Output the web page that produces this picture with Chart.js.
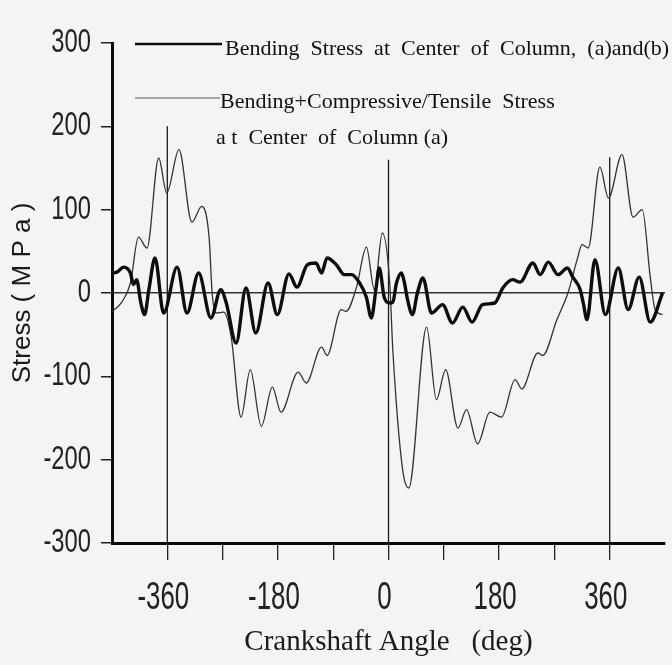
<!DOCTYPE html>
<html>
<head>
<meta charset="utf-8">
<script src="https://cdn.jsdelivr.net/npm/chart.js@4/dist/chart.umd.min.js"></script>
<style>
  html, body { margin: 0; padding: 0; background: #f4f4f2; }
  #wrap { width: 672px; height: 665px; position: relative; }
</style>
</head>
<body>
<div id="wrap"><canvas id="chart01"></canvas></div>
<script>
// Bending stress (thick line)
var bendingAngle = [-451,-442,-431,-420,-415,-410,-403,-397,-390,-380,-366,-344,-328,-309,-289,-273,-264,-248,-232,-216,-196,-181,-162,-149,-132,-118,-109,-100,-85,-72,-60,-47,-36,-28,-20,-15,-7,2,7,13,21,26,31,39,47,56,70,88,104,121,136,153,173,186,202,214,235,247,260,276,291,300,312,317,323,336,353,374,390,408,426,446];
var bendingStress = [24,25,31,24,10,16,-12,-26,4,42,-24,31,-24,24,-30,4,-12,-60,6,-48,12,-26,23,7,34,36,24,42,34,22,22,12,-5,-30,7,30,-5,-12,-11,12,24,12,-8,-26,0,18,-24,-14,-36,-17,-35,-14,-12,6,16,13,36,22,37,22,30,19,4,-12,-32,40,-26,30,-20,19,-35,0];

// Bending + compressive/tensile stress (thin line)
var combinedAngle = [-451,-434,-420,-407,-393,-374,-361,-341,-320,-304,-292,-287,-281,-268,-256,-240,-225,-207,-189,-175,-147,-134,-109,-100,-77,-69,-52,-36,-23,-10,2,7,23,33,62,78,93,113,127,145,165,184,206,217,243,251,274,292,307,315,325,344,358,380,398,413,426,434,446];
var combinedStress = [-23,-11,12,67,54,162,120,172,85,104,67,0,-24,-23,-53,-149,-92,-160,-113,-143,-95,-108,-65,-75,-20,-22,7,55,4,72,12,-68,-212,-234,-41,-128,-92,-162,-140,-181,-143,-149,-104,-115,-72,-75,-32,0,40,58,54,151,114,166,91,100,19,-20,-26];

// vertical reference lines (angle, top value)
var markerAngle = [-360, 0, 360];
var markerTop = [200, 160, 163];

// ticks
var xTicks = [-360,-270,-180,-90,0,90,180,270,360];
var xTickLabels = ['-360','','-180','','0','','180','','360'];
var yTicks = [-300,-200,-100,0,100,200,300];
var yTickLabels = ['-300','-200','-100','0','100','200','300'];

var legendText = [
  'Bending  Stress  at  Center  of  Column,  (a)and(b)',
  'Bending+Compressive/Tensile  Stress',
  'a t  Center  of  Column (a)'
];

function toPoints(xs, ys) {
  return xs.map(function (x, i) { return { x: x, y: ys[i] }; });
}

var datasets = [
  {
    label: 'Bending Stress at Center of Column, (a)and(b)',
    data: toPoints(bendingAngle, bendingStress),
    borderColor: '#0d0d0d',
    borderWidth: 3.4,
    cubicInterpolationMode: 'monotone',
    pointRadius: 0
  },
  {
    label: 'Bending+Compressive/Tensile Stress at Center of Column (a)',
    data: toPoints(combinedAngle, combinedStress),
    borderColor: '#333',
    borderWidth: 1.3,
    cubicInterpolationMode: 'monotone',
    pointRadius: 0
  }
];
markerAngle.forEach(function (a, i) {
  datasets.push({
    label: 'marker' + i,
    data: [{ x: a, y: -300 }, { x: a, y: markerTop[i] }],
    borderColor: '#1a1a1a',
    borderWidth: 1.3,
    pointRadius: 0
  });
});

// 背景
var bgPlugin = {
  id: 'bg',
  beforeDraw: function (chart) {
    var ctx = chart.ctx;
    ctx.save();
    ctx.fillStyle = '#f4f4f2';
    ctx.fillRect(0, 0, chart.width, chart.height);
    ctx.restore();
  }
};

// 目盛りの数字 (narrow, like the scanned figure)
var narrowTicksPlugin = {
  id: 'narrowTicks',
  afterDraw: function (chart) {
    var ctx = chart.ctx;
    var xs = chart.scales.x, ys = chart.scales.y;
    ctx.save();
    ctx.fillStyle = '#222';
    ctx.textBaseline = 'middle';

    ctx.font = '38px "Liberation Sans", Arial, sans-serif';
    ctx.textAlign = 'center';
    xTicks.forEach(function (v, i) {
      if (!xTickLabels[i]) return;
      ctx.save();
      ctx.translate(xs.getPixelForValue(v) - 4, 599);
      ctx.scale(0.68, 1);
      ctx.fillText(xTickLabels[i], 0, 0);
      ctx.restore();
    });

    ctx.font = '33px "Liberation Sans", Arial, sans-serif';
    ctx.textAlign = 'right';
    yTicks.forEach(function (v, i) {
      ctx.save();
      ctx.translate(91, ys.getPixelForValue(v));
      ctx.scale(0.72, 1);
      ctx.fillText(yTickLabels[i], 0, 0);
      ctx.restore();
    });
    ctx.restore();
  }
};

// 凡例 (inside the plot, top left)
var legendPlugin = {
  id: 'innerLegend',
  afterDraw: function (chart) {
    var ctx = chart.ctx;
    ctx.save();
    ctx.lineCap = 'butt';
    ctx.strokeStyle = '#0d0d0d';
    ctx.lineWidth = 2.5;
    ctx.beginPath(); ctx.moveTo(135, 44); ctx.lineTo(222, 44); ctx.stroke();
    ctx.strokeStyle = '#555';
    ctx.lineWidth = 1.2;
    ctx.beginPath(); ctx.moveTo(135, 98); ctx.lineTo(220, 98); ctx.stroke();

    ctx.fillStyle = '#111';
    ctx.font = '22px "Liberation Serif", "Times New Roman", serif';
    ctx.textBaseline = 'middle';
    ctx.textAlign = 'left';
    ctx.fillText(legendText[0], 225, 49);
    ctx.fillText(legendText[1], 220, 102);
    ctx.fillText(legendText[2], 216, 138);
    ctx.restore();
  }
};

var hiddenTick = { family: '"Liberation Sans", Arial, sans-serif', size: 30 };

var ctx = document.getElementById('chart01');
var chart = new Chart(ctx, {
  type: 'line',
  data: { datasets: datasets },
  options: {
    responsive: true,
    maintainAspectRatio: false,
    animation: false,
    layout: { padding: { top: 43, right: 7, left: 0, bottom: 0 } },
    plugins: { legend: { display: false }, tooltip: { enabled: false } },
    scales: {
      x: {
        type: 'linear',
        min: -450,
        max: 450,
        afterBuildTicks: function (scale) {
          scale.ticks = xTicks.map(function (v) { return { value: v }; });
        },
        afterFit: function (scale) { scale.height = 122; },
        border: { display: true, color: '#0a0a0a', width: 3 },
        grid: {
          drawOnChartArea: false,
          drawTicks: true,
          tickLength: 17,
          tickColor: '#222',
          lineWidth: 1.3
        },
        ticks: {
          autoSkip: false,
          maxRotation: 0,
          padding: 14,
          color: 'rgba(0,0,0,0)',
          font: hiddenTick,
          callback: function (value) { return xTickLabels[xTicks.indexOf(value)]; }
        },
        title: {
          display: true,
          text: 'Crankshaft Angle   (deg)',
          color: '#1a1a1a',
          font: { family: '"Liberation Serif", "Times New Roman", serif', size: 29 },
          padding: { top: 0, bottom: 5 }
        }
      },
      y: {
        type: 'linear',
        min: -300,
        max: 300,
        afterBuildTicks: function (scale) {
          scale.ticks = yTicks.map(function (v) { return { value: v }; });
        },
        afterFit: function (scale) { scale.width = 112; },
        border: { display: true, color: '#0a0a0a', width: 3 },
        grid: {
          drawOnChartArea: true,
          color: function (c) { return c.tick && c.tick.value === 0 ? '#333' : 'rgba(0,0,0,0)'; },
          lineWidth: 1.5,
          drawTicks: true,
          tickLength: 11,
          tickColor: '#222'
        },
        ticks: {
          padding: 9,
          color: 'rgba(0,0,0,0)',
          font: hiddenTick,
          callback: function (value) { return yTickLabels[yTicks.indexOf(value)]; }
        },
        title: {
          display: true,
          text: 'Stress ( M P a )',
          color: '#1a1a1a',
          font: { family: '"Liberation Sans", Arial, sans-serif', size: 26 },
          padding: { top: 7, bottom: 0 }
        }
      }
    }
  },
  plugins: [bgPlugin, narrowTicksPlugin, legendPlugin]
});
</script>
</body>
</html>
